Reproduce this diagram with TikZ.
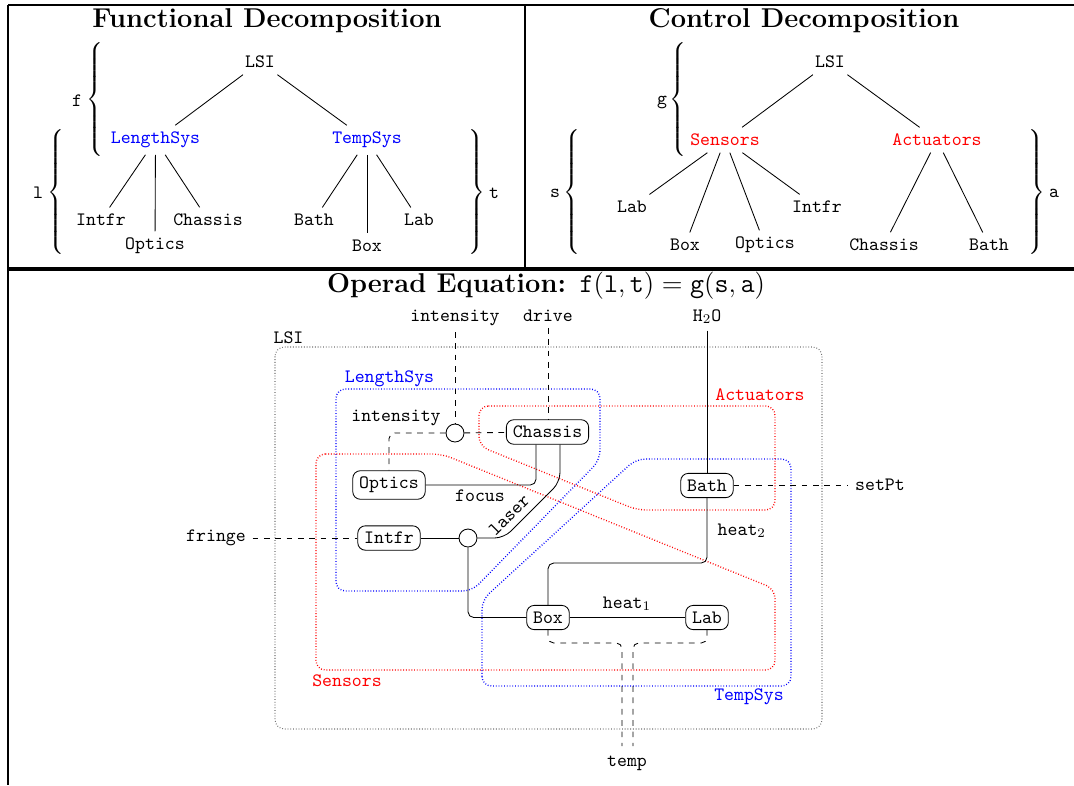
\documentclass[tikz,border=0pt]{standalone}
\usetikzlibrary{calc}
\begin{document}
\begin{tikzpicture}[x=0.529pt,y=-0.529pt,
  tn/.style={font=\ttfamily, inner sep=3.33pt},
  sl/.style={font=\ttfamily, inner sep=0.5pt},
  blk/.style={draw, fill=white, rounded corners=4pt, font=\ttfamily, inner ysep=3.33pt, inner xsep=3.4pt},
  junc/.style={draw, fill=white, circle, minimum size=9.5pt, inner sep=0pt},
  lbl/.style={font=\ttfamily, anchor=base},
  wire/.style={rounded corners=3pt},
  dwire/.style={dashed, rounded corners=3pt},
  region/.style={densely dotted, line width=0.7pt, rounded corners=5pt},
  frame/.style={line width=1.2pt},
  ttl/.style={font=\Large\bfseries, anchor=base},
  brc/.style={inner sep=0pt},
  every path/.style={line width=0.45pt}
]
\useasboundingbox (0,0) rectangle (1074,785);

% frame
\draw[frame] (8,5) -- (1074,5);
\draw[frame] (8,5) -- (8,785);
\draw[frame] (525,5) -- (525,269);
\draw[line width=2pt] (8,269) -- (1074,269);

% titles
\node[ttl] (t1) at (267,27) {Functional Decomposition};
\node[ttl] (t2) at (804,27) {Control Decomposition};
\node[ttl] (t3) at (546,292.5) {Operad Equation: $\mathtt{f}(\mathtt{l},\mathtt{t})=\mathtt{g}(\mathtt{s},\mathtt{a})$};

% ---------- functional tree ----------
\node[tn] (lsiA) at (260,62) {LSI};
\node[tn, text=blue] (lsA) at (155.5,140) {LengthSys};
\node[tn, text=blue] (tsA) at (367,140) {TempSys};
\node[tn] (intfrA) at (101,220) {Intfr};
\node[tn] (opticsA) at (155,246) {Optics};
\node[tn] (chassisA) at (208,220) {Chassis};
\node[tn] (bathA) at (314,220) {Bath};
\node[tn] (boxA) at (367,246) {Box};
\node[tn] (labA) at (419,220) {Lab};
\draw (lsiA) -- (lsA);
\draw (lsiA) -- (tsA);
\draw (lsA) -- (intfrA);
\draw (lsA) -- (opticsA);
\draw (lsA) -- (chassisA);
\draw (tsA) -- (bathA);
\draw (tsA) -- (boxA);
\draw (tsA) -- (labA);
\node[brc] (fbr) at (96,100) {$\left\{\vrule height 28pt depth 28pt width 0pt\right.$};
\node[sl] (flab) at (77,101) {f};
\node[brc] (lbr) at (57,192.5) {$\left\{\vrule height 31pt depth 31pt width 0pt\right.$};
\node[sl] (llab) at (38,193) {l};
\node[brc] (tbr) at (476,192.5) {$\left.\vrule height 31pt depth 31pt width 0pt\right\}$};
\node[sl] (tlab) at (494,193) {t};

% ---------- control tree ----------
\node[tn] (lsiB) at (830,62) {LSI};
\node[tn, text=red] (sensB) at (725,140) {Sensors};
\node[tn, text=red] (actB) at (937,140) {Actuators};
\node[tn] (labB) at (632,207) {Lab};
\node[tn] (intfrB) at (817,207) {Intfr};
\node[tn] (boxB) at (685,245) {Box};
\node[tn] (opticsB) at (765,245) {Optics};
\node[tn] (chassisB) at (884,245) {Chassis};
\node[tn] (bathB) at (989,245) {Bath};
\draw (lsiB) -- (sensB);
\draw (lsiB) -- (actB);
\draw (sensB) -- (labB);
\draw (sensB) -- (boxB);
\draw (sensB) -- (opticsB);
\draw (sensB) -- (intfrB);
\draw (actB) -- (chassisB);
\draw (actB) -- (bathB);
\node[brc] (gbr) at (679,100) {$\left\{\vrule height 28pt depth 28pt width 0pt\right.$};
\node[sl] (glab) at (662,102) {g};
\node[brc] (sbr) at (573,192.5) {$\left\{\vrule height 31pt depth 31pt width 0pt\right.$};
\node[sl] (slab) at (555,193) {s};
\node[brc] (abr) at (1036,192.5) {$\left.\vrule height 31pt depth 31pt width 0pt\right\}$};
\node[sl] (alab) at (1054,193) {a};

% ---------- operad picture: regions ----------
\draw[black!55, densely dotted, line width=0.55pt, rounded corners=5pt] (275,347) rectangle (822,729);
\node[lbl] (lsiC) at (288.5,343) {LSI};

\draw[blue, region] (336,389) -- (600,389) -- (600,460) -- (472,591) -- (336,591) -- cycle;
\node[lbl, text=blue] (lsC) at (389.5,382.7) {LengthSys};
\draw[blue, region] (482,686) -- (482,600) -- (636,459) -- (791,459) -- (791,686) -- cycle;
\node[lbl, text=blue] (tsC) at (749,700) {TempSys};
\draw[red, region] (316,454) -- (442,454) -- (775,589) -- (775,670) -- (316,670) -- cycle;
\node[lbl, text=red] (sensC) at (347,686.7) {Sensors};
\draw[red, region] (479,406) -- (775,406) -- (775,510) -- (637,510) -- (479,446) -- cycle;
\node[lbl, text=red] (actC) at (760,400.7) {Actuators};

% ---------- operad picture: boxes ----------
\node[blk] (chassis) at (547.5,432) {Chassis};
\node[blk] (optics) at (389,485) {Optics};
\node[blk] (intfr) at (389,538) {Intfr};
\node[blk] (bath) at (707,485.5) {Bath};
\node[blk] (box) at (548,617.5) {Box};
\node[blk] (lab) at (707,617.5) {Lab};
\node[junc] (c1) at (455,433) {};
\node[junc] (c2) at (468,538) {};

% outer labels
\node[lbl] (int1) at (455,321) {intensity};
\node[lbl] (drive) at (548,321) {drive};
\node[lbl] (h2o) at (707,321) {H$_2$O};
\node[lbl] (int2) at (396,421.5) {intensity};
\node[lbl] (fringe) at (216,541.5) {fringe};
\node[lbl] (setpt) at (880,490) {setPt};
\node[lbl] (temp) at (627,766) {temp};

% coordinates
\coordinate (lz1) at (560,482);
\coordinate (lz2) at (504,538);
\coordinate (h2) at (628,563);
\coordinate (tAm) at (622,643);
\coordinate (tBm) at (633,643);
\coordinate (tA) at (622,746);
\coordinate (tB) at (633,746);

% ---------- operad picture: wires ----------
\draw[dashed] (int1) -- (c1);
\draw[dashed] (drive.south) -- (drive.south |- chassis.north);
\draw[dashed] (c1) -- (chassis);
\draw[dwire] (c1.west) -| (optics.north);
\draw (h2o.south) -- (bath.north);
\draw[dashed] (bath.east) -- (setpt.west |- bath.east);
\draw[wire] (optics.east) -| ($(chassis.south)+(-11.5,0)$);
\node[lbl] (focus) at (480,501.5) {focus};
\draw[rounded corners=5pt] ($(chassis.south)+(12.5,0)$) -- (lz1) -- (lz2) -- (c2.east);
\node[font=\ttfamily, rotate=45] (laser) at (509,515) {laser};
\draw (intfr) -- (c2);
\draw[dashed] (fringe.east |- intfr.west) -- (intfr.west);
\draw[wire] (c2.south) |- (box.west);
\draw[wire] (bath.south) |- (h2) -| (box.north);
\node[lbl, anchor=base west] (heat2) at (711,535) {heat$_2$};
\draw (box) -- (lab);
\node[lbl] (heat1) at (627,608) {heat$_1$};
\draw[dwire] (box.south) |- (tAm) -- (tA);
\draw[dwire] (lab.south) |- (tBm) -- (tB);
\end{tikzpicture}
\end{document}
